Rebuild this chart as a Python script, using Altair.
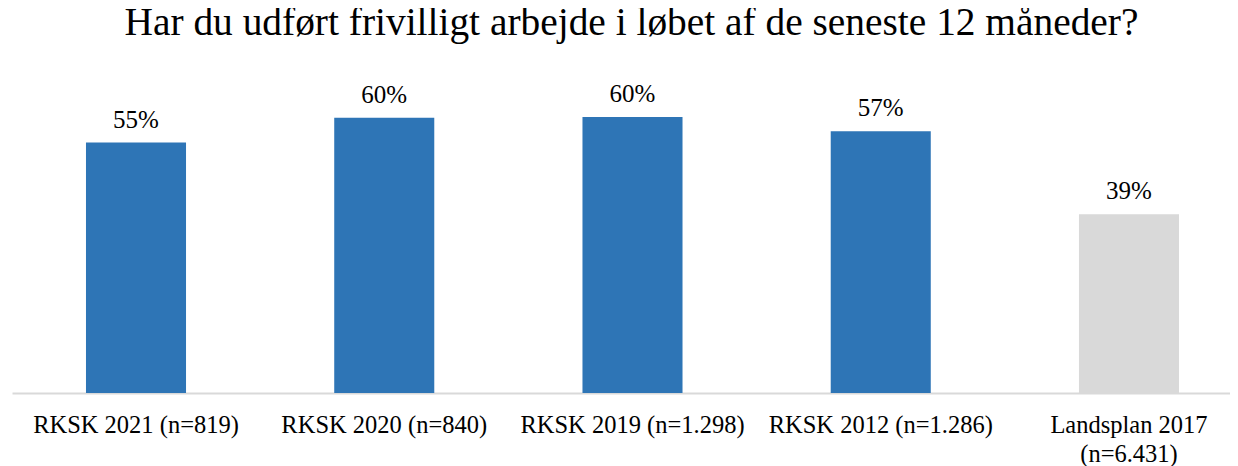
import altair as alt
import pandas as pd

categories = ["RKSK 2021 (n=819)", "RKSK 2020 (n=840)", "RKSK 2019 (n=1.298)",
              "RKSK 2012 (n=1.286)", "Landsplan 2017|(n=6.431)"]
values = [54.6, 60.0, 60.2, 57.1, 39.0]
labels = ["55%", "60%", "60%", "57%", "39%"]
colors = ["#2E75B6", "#2E75B6", "#2E75B6", "#2E75B6", "#D9D9D9"]

df = pd.DataFrame({"cat": categories, "val": values, "lab": labels, "col": colors})

FONT = "Liberation Serif"

x = alt.X("cat:N", sort=categories, title=None,
          scale=alt.Scale(paddingInner=0.597, paddingOuter=0.2517, align=0.592),
          axis=alt.Axis(labelAngle=0, labelFont=FONT, labelFontSize=24.5, labelColor="#000000",
                        labelExpr="split(datum.label, '|')", labelLineHeight=29,
                        labelPadding=20, ticks=False, domainColor="#D9D9D9", domainWidth=2,
                        labelLimit=400))
y = alt.Y("val:Q", scale=alt.Scale(domain=[0, 70]), axis=None)

bars = alt.Chart(df).mark_bar().encode(x=x, y=y, color=alt.Color("col:N", scale=None))
text = alt.Chart(df).mark_text(baseline="alphabetic", dy=-15, font=FONT, fontSize=25,
                               color="#000000").encode(x=alt.X("cat:N", sort=categories), y=y, text="lab:N")

chart = alt.layer(bars, text).properties(
    width=1218, height=321,
    padding={"left": 4, "top": 64, "right": 0, "bottom": 73},
    autosize=alt.AutoSizeParams(type="none"),
    title=alt.TitleParams("Har du udført frivilligt arbejde i løbet af de seneste 12 måneder?",
                          font=FONT, fontSize=39.4, fontWeight="normal", color="#000000",
                          anchor="middle", baseline="alphabetic", offset=35, dx=10.5, dy=37),
).configure_view(stroke=None)

chart.save("out.html", embed_options={"renderer": "svg", "actions": False})
